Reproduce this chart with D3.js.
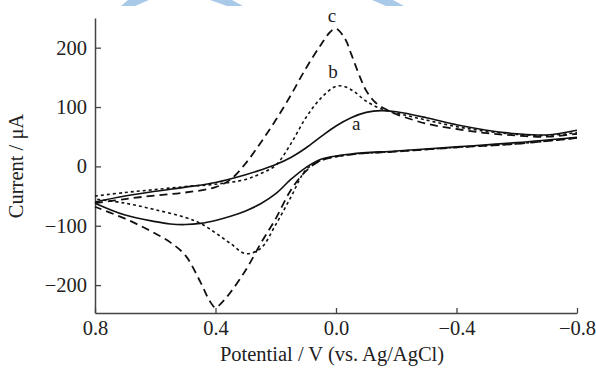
<!DOCTYPE html>
<html>
<head>
<meta charset="utf-8">
<script src="https://cdn.jsdelivr.net/npm/d3@7"></script>
<style>
  body { margin: 0; background: #fff; }
  text { font-family: "Liberation Serif", "DejaVu Serif", serif; fill: #222; }
</style>
</head>
<body>
<div id="chart"></div>
<script>
// tick values
var xTicks = [0.8, 0.4, 0.0, -0.4, -0.8];
var yTicks = [-200, -100, 0, 100, 200];

// curve a (solid) : forward scan 0.8 -> -0.8, then back
var aForward = [[0.8,-60],[0.7,-50],[0.6,-42],[0.5,-35],[0.4,-27],[0.3,-14],[0.25,-6],[0.2,3],[0.15,15],[0.1,31],
  [0.05,50],[0.0,68],[-0.05,82],[-0.1,91],[-0.15,94],[-0.2,92],[-0.3,82],[-0.4,70],[-0.5,61],[-0.6,55],[-0.7,53],[-0.8,61]];
var aReverse = [[-0.8,49],[-0.6,40],[-0.4,33],[-0.2,26],[-0.05,21],[0.05,12],[0.1,-2],[0.15,-22],[0.2,-46],[0.25,-63],
  [0.3,-75],[0.35,-84],[0.4,-91],[0.45,-96],[0.5,-98],[0.55,-97],[0.6,-93],[0.7,-82],[0.8,-62]];

// curve b (short dash)
var bForward = [[0.8,-50],[0.7,-44],[0.6,-39],[0.5,-34],[0.4,-30],[0.3,-22],[0.25,-12],[0.2,2],[0.15,38],[0.1,82],
  [0.05,115],[0.0,135],[-0.03,134],[-0.06,126],[-0.1,110],[-0.15,97],[-0.2,90],[-0.3,78],[-0.4,67],[-0.5,59],[-0.6,54],[-0.7,52],[-0.8,57]];
var bReverse = [[-0.8,48],[-0.6,38],[-0.4,32],[-0.2,25],[-0.05,20],[0.05,10],[0.1,-6],[0.15,-52],[0.2,-98],[0.25,-138],
  [0.3,-147],[0.35,-130],[0.4,-112],[0.45,-96],[0.5,-86],[0.6,-73],[0.7,-62],[0.8,-55]];

// curve c (long dash)
var cForward = [[0.8,-62],[0.7,-55],[0.6,-49],[0.5,-44],[0.4,-35],[0.35,-22],[0.3,5],[0.25,40],[0.2,78],[0.15,120],
  [0.1,165],[0.05,205],[0.02,226],[0.0,232],[-0.03,215],[-0.05,190],[-0.08,150],[-0.1,128],[-0.13,108],[-0.17,95],
  [-0.2,88],[-0.3,72],[-0.4,63],[-0.5,56],[-0.6,52],[-0.7,50],[-0.8,55]];
var cReverse = [[-0.8,48],[-0.6,38],[-0.4,32],[-0.2,25],[-0.05,20],[0.05,10],[0.1,-8],[0.15,-40],[0.2,-88],[0.25,-130],
  [0.3,-175],[0.35,-212],[0.38,-230],[0.4,-238],[0.42,-226],[0.45,-195],[0.5,-150],[0.55,-128],[0.6,-113],
  [0.65,-100],[0.7,-88],[0.75,-78],[0.8,-68]];

var curveNames = ['a', 'b', 'c'];
var labelPos = [[-0.067,61], [0.01,149], [0.013,243]]; // where the letters sit, in data units

var width = 596, height = 373;
var svg = d3.select('#chart').append('svg').attr('width', width).attr('height', height);

// faint watermark bits at the top edge
var marks = [[[128,0],[149,0],[135,6],[121,6]], [[210,0],[232,0],[243,6],[227,6]], [[372,0],[393,0],[404,6],[386,6]]];
svg.selectAll('polygon.wm').data(marks).enter().append('polygon')
  .attr('points', function(d) { return d.join(' '); })
  .attr('fill', '#a9c9e9');

var x = d3.scaleLinear().domain([0.8, -0.8]).range([95, 577]);
var y = d3.scaleLinear().domain([-247, 250]).range([313, 18]);

var fmtX = d3.format('.1f');

var xAxis = svg.append('g').attr('transform', 'translate(0,313)')
  .call(d3.axisBottom(x).tickValues(xTicks).tickSize(-5).tickSizeOuter(0).tickPadding(7.5).tickFormat(fmtX));
var yAxis = svg.append('g').attr('transform', 'translate(95,0)')
  .call(d3.axisLeft(y).tickValues(yTicks).tickSize(-6).tickSizeOuter(0).tickPadding(8));

[xAxis, yAxis].forEach(function(g) {
  g.select('.domain').attr('stroke', '#444').attr('stroke-width', 1.5);
  g.selectAll('.tick line').attr('stroke', '#444').attr('stroke-width', 1.3);
  g.selectAll('.tick text').attr('font-size', 20.5).attr('font-family', '"Liberation Serif", serif').attr('fill', '#222');
});

var line = d3.line()
  .x(function(d) { return x(d[0]); })
  .y(function(d) { return y(d[1]); })
  .curve(d3.curveCatmullRom.alpha(0.5));

var styles = {
  a: { dash: null, w: 1.6 },
  b: { dash: '3,3', w: 1.6 },
  c: { dash: '8,5', w: 1.8 }
};
var loops = { a: [aForward, aReverse], b: [bForward, bReverse], c: [cForward, cReverse] };

curveNames.forEach(function(name) {
  loops[name].forEach(function(branch) {
    svg.append('path')
      .datum(branch)
      .attr('d', line)
      .attr('fill', 'none')
      .attr('stroke', '#111')
      .attr('stroke-width', styles[name].w)
      .attr('stroke-dasharray', styles[name].dash);
  });
});

svg.selectAll('text.lbl').data(curveNames).enter().append('text')
  .attr('class', 'lbl')
  .attr('x', function(d, i) { return x(labelPos[i][0]); })
  .attr('y', function(d, i) { return y(labelPos[i][1]); })
  .attr('text-anchor', 'middle')
  .attr('font-size', 19)
  .text(function(d) { return d; });

svg.append('text')
  .attr('x', 332).attr('y', 361)
  .attr('text-anchor', 'middle')
  .attr('font-size', 20.5)
  .text('Potential / V (vs. Ag/AgCl)');

svg.append('text')
  .attr('transform', 'translate(23,166) rotate(-90)')
  .attr('text-anchor', 'middle')
  .attr('font-size', 20.5)
  .text('Current / μA');
</script>
</body>
</html>
